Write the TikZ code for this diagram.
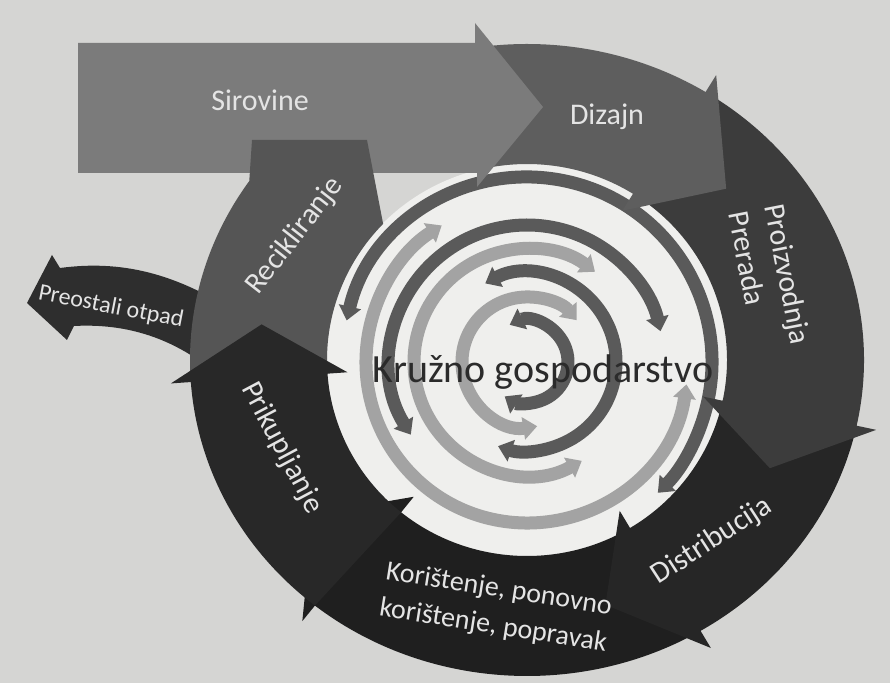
\documentclass[tikz,border=0pt]{standalone}
\usepackage{fontspec}
\setmainfont{Carlito}
\usetikzlibrary{arrows.meta}
\definecolor{gPaper}{HTML}{D5D5D3}
\definecolor{gDisk}{HTML}{EFEFED}
\definecolor{gSirovine}{HTML}{7B7B7B}
\definecolor{gDizajn}{HTML}{5E5E5E}
\definecolor{gRecikl}{HTML}{555555}
\definecolor{gProizv}{HTML}{3C3C3C}
\definecolor{gDistrib}{HTML}{262626}
\definecolor{gKoristenje}{HTML}{1F1F1F}
\definecolor{gPrikup}{HTML}{282828}
\definecolor{gOtpad}{HTML}{2E2E2E}
\definecolor{gTrackDark}{HTML}{5A5A5A}
\definecolor{gTrackLight}{HTML}{A3A3A3}
\definecolor{gLabel}{HTML}{E4E4E4}
\definecolor{gTitle}{HTML}{2B2B2B}

% ring segment: colour, tail angle, head angle, tip angle
\newcommand{\ringseg}[4]{%
  \fill[#1] (#2:337 and 316) arc[start angle=#2, end angle=#3, x radius=337, y radius=316]
    -- (#3:357 and 336) -- (#4:268 and 256) -- (#3:180 and 176) -- (#3:200 and 196)
    arc[start angle=#3, end angle=#2, x radius=200, y radius=196] -- cycle;}

\begin{document}
\begin{tikzpicture}[x=0.5pt, y=-0.5pt,
    lbl/.style={text=gLabel, font=\fontsize{15}{18.5}\selectfont},
    track/.style={line width=6.5pt, {Triangle[width=11pt,length=7pt]}-{Triangle[width=11pt,length=7pt]}}]
  \useasboundingbox (0,0) rectangle (890,683);
  \fill[gPaper] (0,0) rectangle (890,683);

  % waste leaving the cycle
  \fill[gOtpad] (27,303) -- (52,255) -- (60,268) .. controls (120,260) and (175,272) .. (240,315)
    -- (240,395) .. controls (200,355) and (150,322) .. (74,326) -- (67,340) -- cycle;

  % centre disk with the small loops
  \begin{scope}[shift={(527,362)}]
    \fill[gDisk] (0,0) ellipse[x radius=202, y radius=198];
    \draw[track, gTrackDark]  (193:185) arc[start angle=193, end angle=405, radius=185];
    \draw[track, gTrackLight] (8:161)   arc[start angle=8, end angle=238, radius=161];
    \draw[track, gTrackDark]  (148:137) arc[start angle=148, end angle=347, radius=137];
    \draw[track, gTrackLight] (61:113)  arc[start angle=61, end angle=307, radius=113];
    \draw[track, gTrackDark]  (-118:89) arc[start angle=-118, end angle=109, radius=89];
    \draw[track, gTrackLight] (81:65)   arc[start angle=81, end angle=320, radius=65];
    \draw[track, gTrackDark]  (-115:41) arc[start angle=-115, end angle=123, radius=41];
  \end{scope}

  % outer cycle, each head lies on the next step
  \begin{scope}[shift={(527,360)}]
    \ringseg{gKoristenje}{59}{129}{143}
    \ringseg{gDistrib}{12}{59}{73}
    \ringseg{gProizv}{-58}{12}{25}
    \ringseg{gDizajn}{-100}{-58}{-42}
  \end{scope}
  \fill[gSirovine] (78,43) -- (475,43) -- (475,23) -- (543,107) -- (477,187) -- (477,173) -- (78,173) -- cycle;
  \begin{scope}[shift={(527,360)}]
    \fill[gRecikl] (176:337 and 316) arc[start angle=176, end angle=214.5, x radius=337, y radius=316]
      -- (-275,-220) -- (-160,-220) -- (224:200 and 196)
      arc[start angle=224, end angle=176, x radius=200, y radius=196] -- cycle;
    \ringseg{gPrikup}{129}{176}{188}
  \end{scope}

  \node[text=gTitle, font=\fontsize{20}{24}\selectfont] (title) at (543,372) {Kružno gospodarstvo};
  \node[lbl] (sirovine) at (260,100) {Sirovine};
  \node[lbl] (dizajn) at (607,117) {Dizajn};
  \node[lbl, rotate=-79, align=left] (proizvodnja) at (770,278) {Proizvodnja\\Prerada};
  \node[lbl, rotate=33] (distribucija) at (712,541) {Distribucija};
  \node[lbl, rotate=-9, align=center, font=\fontsize{14}{18.5}\selectfont] (koristenje) at (496,608) {Korištenje, ponovno\\korištenje, popravak};
  \node[lbl, rotate=-62] (prikupljanje) at (282,448) {Prikupljanje};
  \node[lbl, rotate=52] (recikliranje) at (295,236) {Recikliranje};
  \node[lbl, rotate=-11, font=\fontsize{12}{14}\selectfont] (otpad) at (111,307) {Preostali otpad};
\end{tikzpicture}
\end{document}
